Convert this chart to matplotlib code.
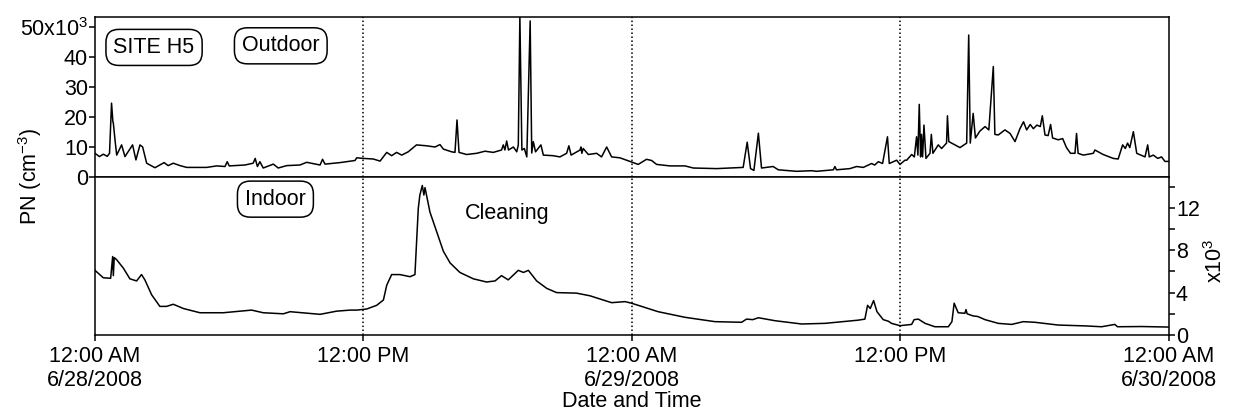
import matplotlib
matplotlib.use("Agg")
import matplotlib.pyplot as plt
from matplotlib.ticker import FixedLocator, FixedFormatter, MultipleLocator

plt.rcParams['font.family'] = ['Liberation Sans', 'DejaVu Sans']
plt.rcParams['mathtext.fontset'] = 'custom'
plt.rcParams['mathtext.rm'] = 'Liberation Sans'

# outdoor particle number, hours since 12:00 AM 6/28/2008, values in 10^3 cm^-3
out_hours = [0.0, 0.2, 0.37, 0.55, 0.65, 0.74, 0.8, 0.82, 0.9, 0.97, 1.19, 1.34, 1.68, 1.83, 2.01,
             2.13, 2.31, 2.68, 3.09, 3.27, 3.5, 3.8, 4.1, 4.99, 5.44, 5.81, 5.91, 6.0, 6.7, 7.07,
             7.16, 7.26, 7.37, 7.52, 7.97, 8.19, 8.57, 9.16, 9.46, 10.06, 10.17, 10.28, 10.95,
             11.62, 11.7, 12.0, 12.44, 12.74, 13.04, 13.26, 13.48, 13.71, 14.0, 14.37, 14.82,
             15.2, 15.42, 15.57, 15.94, 16.09, 16.18, 16.27, 16.61, 17.06, 17.43, 17.8, 18.17,
             18.25, 18.32, 18.4, 18.48, 18.7, 18.85, 18.92, 18.99, 19.08, 19.19, 19.3, 19.45,
             19.52, 19.59, 19.69, 19.93, 20.04, 20.48, 20.78, 21.08, 21.18, 21.28, 21.68, 21.72,
             21.76, 21.82, 22.05, 22.42, 22.64, 22.87, 23.09, 23.46, 23.76, 24.06, 24.28, 24.65,
             24.88, 25.1, 25.7, 26.37, 26.74, 27.78, 28.97, 29.15, 29.3, 29.45, 29.65, 29.79,
             30.31, 30.54, 31.36, 32.03, 32.25, 33.0, 33.07, 33.14, 33.74, 34.04, 34.34, 34.71,
             34.85, 35.01, 35.2, 35.42, 35.5, 35.83, 35.98, 36.2, 36.28, 36.5, 36.62, 36.72,
             36.78, 36.84, 36.9, 36.94, 36.99, 37.05, 37.14, 37.32, 37.38, 37.45, 37.69, 37.84,
             38.06, 38.1, 38.16, 38.44, 38.66, 38.96, 39.05, 39.12, 39.25, 39.35, 39.55, 39.78,
             39.95, 40.15, 40.22, 40.37, 40.67, 40.9, 41.12, 41.34, 41.5, 41.64, 41.8, 41.94,
             42.1, 42.25, 42.34, 42.46, 42.6, 42.71, 42.8, 43.05, 43.25, 43.42, 43.6, 43.8,
             43.87, 43.94, 44.17, 44.62, 44.69, 45.06, 45.51, 45.73, 45.93, 46.05, 46.15, 46.25,
             46.41, 46.56, 46.93, 47.05, 47.12, 47.3, 47.5, 47.67, 47.82, 48.0]
out_pn = [7.9, 6.8, 7.6, 6.9, 7.9, 24.6, 18.4, 18.0, 12.0, 7.3, 10.7, 6.8, 10.7, 5.7, 10.7,
          10.0, 4.6, 3.1, 4.8, 3.8, 4.6, 3.8, 3.2, 3.2, 3.7, 3.5, 5.1, 3.7, 4.0, 4.6,
          6.2, 3.5, 5.1, 3.0, 4.3, 3.0, 3.8, 4.0, 4.9, 4.0, 5.9, 4.3, 4.8,
          5.5, 6.4, 6.2, 6.0, 5.3, 8.2, 7.1, 8.2, 7.3, 8.4, 10.7, 10.4,
          10.0, 10.8, 9.3, 8.4, 8.2, 19.0, 8.2, 7.5, 7.9, 8.6, 8.2, 9.0,
          10.7, 9.0, 12.0, 9.0, 10.0, 8.4, 10.7, 53.5, 9.0, 9.5, 6.7, 52.0,
          8.0, 11.8, 8.4, 10.7, 7.3, 7.1, 6.7, 7.9, 10.4, 7.3, 9.0, 10.0,
          7.9, 9.5, 7.5, 7.9, 6.7, 10.0, 6.7, 6.4, 5.6, 4.8, 4.2, 5.9,
          5.5, 4.2, 3.7, 3.7, 3.0, 2.8, 3.2, 11.6, 2.8, 2.2, 14.6, 3.0,
          3.5, 2.4, 1.9, 2.1, 1.9, 2.4, 3.5, 2.4, 2.8, 3.5, 3.2, 4.5,
          4.0, 5.1, 4.5, 13.4, 4.5, 5.6, 4.2, 5.6, 5.6, 7.5, 6.7, 13.4,
          7.3, 24.2, 6.7, 14.2, 6.7, 17.3, 6.2, 7.9, 14.2, 7.9, 10.7, 9.5,
          11.3, 20.4, 11.8, 10.7, 9.8, 11.3, 47.3, 11.3, 21.2, 13.0, 15.3, 16.8,
          15.7, 36.8, 14.2, 14.0, 15.7, 14.5, 11.8, 16.1, 18.4, 15.7, 17.5, 16.1,
          17.3, 16.8, 20.4, 14.0, 13.8, 17.5, 13.0, 12.4, 12.8, 9.8, 7.9, 7.9,
          14.5, 7.9, 7.3, 7.9, 9.0, 7.5, 6.2, 6.0, 10.7, 9.5, 11.3, 9.8,
          15.1, 7.9, 6.7, 10.7, 6.7, 7.3, 6.2, 6.7, 5.2, 5.2]

# indoor particle number, values in 10^3 cm^-3
in_hours = [0.0, 0.37, 0.7, 0.79, 0.82, 0.86, 0.97, 1.27, 1.56, 1.86, 2.08, 2.23, 2.53, 2.9,
            3.2, 3.5, 3.95, 4.69, 5.73, 7.0, 7.52, 8.42, 8.72, 10.06, 10.8, 11.4, 11.7, 12.14,
            12.59, 12.89, 13.04, 13.26, 13.63, 14.08, 14.3, 14.45, 14.52, 14.63, 14.7, 14.75,
            14.97, 15.27, 15.57, 15.87, 16.31, 16.91, 17.5, 17.88, 18.17, 18.47, 18.92, 19.15,
            19.37, 19.74, 20.19, 20.63, 21.52, 22.12, 23.09, 23.69, 23.98, 25.17, 26.37, 27.71,
            28.9, 29.12, 29.4, 29.65, 30.39, 31.58, 32.63, 34.11, 34.41, 34.53, 34.65, 34.8,
            34.95, 35.23, 35.46, 35.6, 35.98, 36.5, 36.61, 36.8, 37.1, 37.54, 38.14, 38.3, 38.4,
            38.58, 38.88, 38.93, 38.98, 39.25, 39.45, 39.78, 40.37, 40.97, 41.49, 42.01, 43.05,
            44.25, 44.99, 45.58, 45.7, 46.78, 48.0]
in_pn = [6.1, 5.4, 5.35, 7.4, 5.6, 7.3, 7.1, 6.3, 5.3, 5.1, 5.7, 5.2, 3.8, 2.7,
         2.7, 2.9, 2.5, 2.1, 2.1, 2.35, 2.1, 2.0, 2.2, 1.95, 2.25, 2.35, 2.35, 2.45,
         2.8, 3.3, 4.7, 5.7, 5.7, 5.5, 5.7, 11.95, 13.2, 14.1, 13.2, 13.9,
         11.6, 9.75, 7.9, 6.8, 5.9, 5.3, 5.0, 5.1, 5.6, 5.2, 6.1, 5.9,
         6.1, 5.1, 4.4, 4.0, 3.95, 3.7, 3.05, 3.15, 3.0, 2.2, 1.67, 1.26,
         1.2, 1.5, 1.45, 1.63, 1.35, 1.04, 1.1, 1.4, 1.5, 2.8, 2.5, 3.25,
         2.2, 1.45, 1.3, 1.1, 0.88, 1.0, 1.45, 1.5, 1.1, 0.78, 0.78, 1.26, 3.0,
         2.1, 2.05, 2.4, 2.0, 1.8, 1.75, 1.45, 1.1, 1.0, 1.26, 1.2, 0.94,
         0.86, 0.78, 1.0, 0.78, 0.8, 0.75]

day_lines = [12, 24, 36]
xtick_pos = [0, 12, 24, 36, 48]
xtick_labels = ['12:00 AM\n6/28/2008', '12:00 PM', '12:00 AM\n6/29/2008',
                '12:00 PM', '12:00 AM\n6/30/2008']

fig = plt.figure(figsize=(12.4, 4.17), dpi=100)
ax1 = fig.add_axes([0.0766, 0.5755, 0.8661, 0.3837])
ax2 = fig.add_axes([0.0766, 0.1966, 0.8661, 0.3789])

box = dict(boxstyle='round,pad=0.35,rounding_size=0.6', fc='white', ec='black', lw=1.1)

# top: outdoor
ax1.plot(out_hours, out_pn, color='black', lw=1.1)
ax1.set_xlim(0, 48)
ax1.set_ylim(0, 53.3)
ax1.yaxis.set_major_locator(FixedLocator([0, 10, 20, 30, 40, 50]))
ax1.yaxis.set_major_formatter(FixedFormatter(['0', '10', '20', '30', '40', r'50x10$^3$']))
ax1.tick_params(axis='y', direction='out', length=4, width=1.1, labelsize=15.5, pad=1)
ax1.tick_params(axis='x', bottom=False, labelbottom=False)
ax1.text(0.055, 0.81, 'SITE H5', transform=ax1.transAxes, fontsize=15.5,
         ha='center', va='center', bbox=box)
ax1.text(0.173, 0.82, 'Outdoor', transform=ax1.transAxes, fontsize=15.5,
         ha='center', va='center', bbox=box)

# bottom: indoor
ax2.plot(in_hours, in_pn, color='black', lw=1.1)
ax2.set_xlim(0, 48)
ax2.set_ylim(0, 14.9)
ax2.yaxis.tick_right()
ax2.yaxis.set_major_locator(FixedLocator([0, 4, 8, 12]))
ax2.yaxis.set_minor_locator(MultipleLocator(2))
ax2.tick_params(axis='y', which='both', direction='out', length=4, width=1.1, labelsize=15.5, pad=1)
ax2.set_xticks(xtick_pos)
ax2.set_xticklabels(xtick_labels)
ax2.tick_params(axis='x', direction='out', length=4, width=1.1, labelsize=15.5, pad=4)
ax2.set_xlabel('Date and Time', fontsize=15.5, labelpad=0)
ax2.text(0.168, 0.86, 'Indoor', transform=ax2.transAxes, fontsize=15.5,
         ha='center', va='center', bbox=box)
ax2.text(0.384, 0.77, 'Cleaning', transform=ax2.transAxes, fontsize=15.5,
         ha='center', va='center')

for ax in (ax1, ax2):
    for h in day_lines:
        ax.axvline(h, color='black', lw=1.1, ls=(0, (1, 1.6)))
    for sp in ax.spines.values():
        sp.set_linewidth(1.1)

fig.text(0.024, 0.578, r'PN (cm$^{-3}$)', rotation=90, fontsize=15.5, ha='center', va='center')
fig.text(0.98, 0.375, r'x10$^3$', rotation=90, fontsize=15.5, ha='center', va='center')

fig.savefig('out.png', dpi=100)
